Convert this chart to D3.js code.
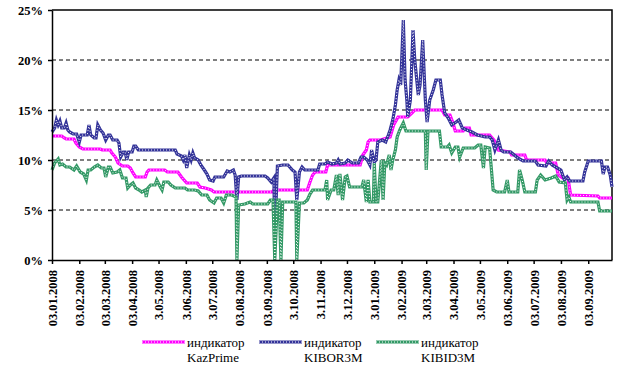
<!DOCTYPE html>
<html>
<head>
<meta charset="utf-8">
<script src="https://cdn.jsdelivr.net/npm/d3@7"></script>
<style>body { margin: 0; background: #fff; }</style>
</head>
<body>
<div id="chart"></div>
<script>
// tick dates and their labels as printed on the axis
const tickDates = ["2008-01-03","2008-02-03","2008-03-03","2008-04-03","2008-05-03","2008-06-03","2008-07-03",
  "2008-08-03","2008-09-03","2008-10-03","2008-11-03","2008-12-03","2009-01-03","2009-02-03","2009-03-03",
  "2009-04-03","2009-05-03","2009-06-03","2009-07-03","2009-08-03","2009-09-03"];
const tickLabels = ["03.01.2008","03.02.2008","03.03.2008","03.04.2008","3.05.2008","3.06.2008","3.07.2008",
  "03.08.2008","03.09.2008","3.10.2008","3.11.2008","3.12.2008","3.01.2009","3.02.2009","3.03.2009",
  "3.04.2009","3.05.2009","03.06.2009","03.07.2009","03.08.2009","03.09.2009"];
const yTicks = [0, 5, 10, 15, 20, 25];

const seriesNames = ["KazPrime", "KIBOR3M", "KIBID3M"];
const seriesColors = ["#ff00ff", "#333399", "#339966"];

// [date, %]
const kazPrime = [
  ["2008-01-03",12.4],["2008-01-14",12.4],["2008-01-17",12.2],["2008-01-19",12.1],["2008-01-28",12.1],
  ["2008-01-30",11.7],["2008-02-03",11.3],["2008-02-07",11.1],["2008-02-27",11.1],["2008-02-29",11.0],
  ["2008-03-09",11.0],["2008-03-11",10.7],["2008-03-15",10.3],["2008-03-18",9.7],["2008-03-23",9.4],
  ["2008-03-29",9.4],["2008-04-01",9.2],["2008-04-04",8.7],["2008-04-07",8.3],["2008-04-18",8.3],
  ["2008-04-20",8.8],["2008-04-22",9.0],["2008-05-10",9.0],["2008-05-13",8.8],["2008-05-25",8.8],
  ["2008-05-29",8.3],["2008-06-01",8.0],["2008-06-04",7.7],["2008-06-16",7.7],["2008-06-19",7.3],
  ["2008-06-25",7.2],["2008-07-02",7.0],["2008-07-05",6.8],["2008-09-09",6.8],["2008-09-11",7.0],
  ["2008-10-19",7.0],["2008-10-22",7.8],["2008-10-25",8.5],["2008-10-28",8.8],["2008-11-09",8.8],
  ["2008-11-11",9.5],["2008-12-18",9.5],["2008-12-21",10.5],["2008-12-25",11.0],["2008-12-27",11.8],
  ["2008-12-29",12.0],["2009-01-10",12.0],["2009-01-21",12.3],["2009-01-25",13.5],["2009-01-30",14.3],
  ["2009-02-10",14.3],["2009-02-15",14.7],["2009-02-18",15.0],["2009-03-21",15.0],["2009-03-24",14.5],
  ["2009-03-30",14.5],["2009-04-02",13.8],["2009-04-05",12.9],["2009-04-14",12.9],["2009-04-16",13.2],
  ["2009-04-21",13.2],["2009-04-23",12.5],["2009-05-14",12.5],["2009-05-19",12.0],["2009-05-24",11.0],
  ["2009-06-06",10.8],["2009-06-08",10.5],["2009-06-23",10.5],["2009-06-25",10.0],["2009-07-16",10.0],
  ["2009-07-18",9.7],["2009-07-28",9.7],["2009-07-31",8.5],["2009-08-05",8.2],["2009-08-11",8.2],
  ["2009-08-14",6.5],["2009-09-14",6.4],["2009-09-16",6.2],["2009-09-30",6.2]
];

const kibor3m = [
  ["2008-01-03",12.8],["2008-01-06",13.2],["2008-01-08",14.0],["2008-01-10",13.5],["2008-01-12",13.9],
  ["2008-01-14",13.2],["2008-01-17",13.2],["2008-01-19",13.7],["2008-01-21",13.0],["2008-01-23",12.8],
  ["2008-01-27",12.6],["2008-01-31",12.6],["2008-02-03",11.8],["2008-02-05",12.5],["2008-02-12",12.5],
  ["2008-02-14",13.5],["2008-02-16",12.5],["2008-02-20",12.2],["2008-02-22",12.2],["2008-02-24",13.5],
  ["2008-02-27",13.0],["2008-03-01",12.7],["2008-03-04",12.0],["2008-03-07",12.5],["2008-03-09",12.5],
  ["2008-03-12",12.0],["2008-03-17",12.0],["2008-03-19",11.7],["2008-03-21",10.3],["2008-03-24",10.8],
  ["2008-03-26",10.8],["2008-03-28",10.0],["2008-03-30",10.8],["2008-04-03",10.8],["2008-04-05",11.4],
  ["2008-04-07",11.4],["2008-04-10",11.0],["2008-04-12",11.0],["2008-05-22",11.0],["2008-05-24",10.6],
  ["2008-05-29",10.4],["2008-05-31",10.0],["2008-06-02",10.5],["2008-06-04",9.2],["2008-06-07",10.5],
  ["2008-06-09",10.0],["2008-06-11",10.7],["2008-06-13",10.2],["2008-06-17",10.0],["2008-06-20",9.5],
  ["2008-06-24",9.0],["2008-06-27",8.6],["2008-06-30",8.0],["2008-07-04",7.9],["2008-07-06",8.3],
  ["2008-07-16",8.3],["2008-07-20",8.9],["2008-07-23",8.8],["2008-07-27",9.0],["2008-07-29",8.5],
  ["2008-07-31",6.0],["2008-08-02",8.3],["2008-08-05",8.4],["2008-09-01",8.4],["2008-09-04",8.2],
  ["2008-09-08",7.8],["2008-09-11",8.2],["2008-09-12",2.3],["2008-09-15",9.4],["2008-09-21",9.5],
  ["2008-09-27",9.5],["2008-10-02",9.0],["2008-10-05",8.8],["2008-10-07",6.0],["2008-10-10",8.8],
  ["2008-10-13",9.3],["2008-10-16",9.0],["2008-10-31",9.0],["2008-11-02",9.6],["2008-11-08",9.6],
  ["2008-11-11",9.8],["2008-11-16",9.6],["2008-11-21",9.7],["2008-11-23",10.0],["2008-11-25",9.6],
  ["2008-12-01",9.7],["2008-12-04",10.0],["2008-12-09",9.7],["2008-12-16",9.7],["2008-12-19",10.3],
  ["2008-12-22",10.3],["2008-12-26",10.0],["2008-12-29",9.5],["2008-12-31",11.0],["2009-01-03",9.8],
  ["2009-01-05",10.0],["2009-01-07",11.8],["2009-01-12",12.0],["2009-01-16",11.8],["2009-01-19",12.5],
  ["2009-01-21",13.0],["2009-01-24",14.0],["2009-01-27",15.5],["2009-01-29",17.0],["2009-01-31",18.0],
  ["2009-02-02",17.5],["2009-02-05",24.0],["2009-02-07",18.0],["2009-02-09",16.0],["2009-02-10",14.3],
  ["2009-02-13",16.0],["2009-02-16",23.0],["2009-02-18",20.0],["2009-02-22",16.5],["2009-02-24",17.5],
  ["2009-02-27",22.0],["2009-03-02",16.0],["2009-03-04",13.8],["2009-03-07",16.0],["2009-03-11",17.0],
  ["2009-03-14",18.0],["2009-03-19",18.0],["2009-03-21",16.5],["2009-03-24",14.7],["2009-03-28",14.2],
  ["2009-04-01",13.5],["2009-04-06",13.8],["2009-04-09",14.0],["2009-04-13",13.2],["2009-04-18",13.0],
  ["2009-04-24",12.8],["2009-04-30",12.5],["2009-05-09",12.3],["2009-05-14",12.3],["2009-05-17",12.0],
  ["2009-05-20",11.0],["2009-05-24",12.0],["2009-05-27",11.0],["2009-05-30",10.8],["2009-06-07",10.8],
  ["2009-06-11",10.5],["2009-06-15",10.2],["2009-06-21",9.9],["2009-07-05",9.9],["2009-07-08",9.5],
  ["2009-07-17",9.4],["2009-07-20",9.9],["2009-07-24",9.5],["2009-07-28",9.3],["2009-08-03",9.0],
  ["2009-08-07",8.0],["2009-08-10",8.3],["2009-08-13",7.9],["2009-08-28",7.9],["2009-08-30",8.8],
  ["2009-09-03",9.9],["2009-09-18",9.9],["2009-09-20",8.6],["2009-09-22",9.3],["2009-09-25",9.3],
  ["2009-09-28",8.5],["2009-09-30",7.3]
];

const kibid3m = [
  ["2008-01-03",9.0],["2008-01-06",9.7],["2008-01-10",10.1],["2008-01-12",9.5],["2008-01-15",9.6],
  ["2008-01-19",9.3],["2008-01-23",9.3],["2008-01-28",9.0],["2008-01-31",9.4],["2008-02-04",8.8],
  ["2008-02-08",8.6],["2008-02-11",8.0],["2008-02-13",9.0],["2008-02-16",9.0],["2008-02-20",9.3],
  ["2008-02-24",9.5],["2008-02-28",9.2],["2008-03-02",9.2],["2008-03-04",8.3],["2008-03-07",9.3],
  ["2008-03-09",9.3],["2008-03-12",8.7],["2008-03-17",8.8],["2008-03-20",9.0],["2008-03-23",8.2],
  ["2008-03-27",8.2],["2008-03-29",7.2],["2008-04-01",7.5],["2008-04-04",7.7],["2008-04-07",7.2],
  ["2008-04-11",7.0],["2008-04-14",6.8],["2008-04-18",7.0],["2008-04-19",6.3],["2008-04-21",7.2],
  ["2008-04-24",7.5],["2008-04-29",7.5],["2008-05-01",8.0],["2008-05-05",7.3],["2008-05-07",7.0],
  ["2008-05-09",7.8],["2008-05-14",7.8],["2008-05-17",7.5],["2008-05-22",7.2],["2008-06-02",7.2],
  ["2008-06-05",7.0],["2008-06-13",7.0],["2008-06-17",6.9],["2008-06-21",6.5],["2008-06-27",6.5],
  ["2008-06-30",6.0],["2008-07-05",5.7],["2008-07-08",6.2],["2008-07-13",6.2],["2008-07-16",5.7],
  ["2008-07-19",6.5],["2008-07-25",6.5],["2008-07-30",6.3],["2008-07-31",0.0],["2008-08-02",5.5],
  ["2008-08-09",5.6],["2008-08-15",5.8],["2008-08-18",5.6],["2008-09-04",5.6],["2008-09-07",6.0],
  ["2008-09-10",6.0],["2008-09-12",0.0],["2008-09-15",6.0],["2008-09-17",6.0],["2008-09-19",0.0],
  ["2008-09-21",5.8],["2008-10-06",5.8],["2008-10-07",0.0],["2008-10-10",5.7],["2008-10-15",5.7],
  ["2008-10-19",6.0],["2008-10-22",6.6],["2008-10-25",7.0],["2008-11-08",7.0],["2008-11-10",8.0],
  ["2008-11-11",6.0],["2008-11-15",7.0],["2008-11-18",7.0],["2008-11-21",8.5],["2008-11-23",6.5],
  ["2008-11-25",8.6],["2008-11-28",6.0],["2008-12-01",8.3],["2008-12-03",8.4],["2008-12-06",7.3],
  ["2008-12-20",7.3],["2008-12-22",8.0],["2008-12-25",5.8],["2008-12-27",8.0],["2008-12-29",5.8],
  ["2009-01-02",5.8],["2009-01-03",9.7],["2009-01-05",5.8],["2009-01-07",5.8],["2009-01-11",10.0],
  ["2009-01-13",6.0],["2009-01-15",9.7],["2009-01-17",9.5],["2009-01-20",10.5],["2009-01-22",9.0],
  ["2009-01-24",10.0],["2009-01-27",11.0],["2009-01-29",12.3],["2009-02-01",13.0],["2009-02-05",13.7],
  ["2009-02-08",12.9],["2009-03-02",12.9],["2009-03-03",9.0],["2009-03-05",12.9],["2009-03-18",12.9],
  ["2009-03-20",11.3],["2009-03-27",11.3],["2009-03-29",11.5],["2009-04-01",10.7],["2009-04-05",11.3],
  ["2009-04-08",11.3],["2009-04-10",10.3],["2009-04-14",11.2],["2009-04-27",11.2],["2009-05-01",11.5],
  ["2009-05-04",11.5],["2009-05-07",9.2],["2009-05-09",11.3],["2009-05-14",11.2],["2009-05-18",7.0],
  ["2009-05-22",6.8],["2009-05-31",6.8],["2009-06-03",8.0],["2009-06-05",6.8],["2009-06-15",6.8],
  ["2009-06-17",9.0],["2009-06-20",8.0],["2009-06-23",6.8],["2009-07-05",6.8],["2009-07-07",8.0],
  ["2009-07-11",8.5],["2009-07-16",8.0],["2009-07-23",8.2],["2009-07-28",8.4],["2009-08-01",7.8],
  ["2009-08-08",7.7],["2009-08-10",6.0],["2009-08-12",6.3],["2009-08-14",5.8],["2009-09-14",5.8],
  ["2009-09-16",4.9],["2009-09-30",4.9]
];

const allSeries = [kazPrime, kibor3m, kibid3m];

const width = 639, height = 374;
const margin = {top: 10, right: 27, bottom: 114, left: 52};
const parse = d3.timeParse("%Y-%m-%d");
const serif = "Liberation Serif";

const svg = d3.select("#chart").append("svg")
    .attr("width", width)
    .attr("height", height)
    .attr("font-family", serif);

const x = d3.scaleTime()
    .domain([parse("2008-01-03"), parse("2009-09-30")])
    .range([margin.left, width - margin.right]);

const y = d3.scaleLinear()
    .domain([0, 25])
    .range([height - margin.bottom, margin.top]);

// dashed gridlines
svg.append("g")
    .selectAll("line")
    .data(yTicks.filter(d => d > 0 && d < 25))
    .enter().append("line")
    .attr("x1", margin.left).attr("x2", width - margin.right)
    .attr("y1", d => y(d)).attr("y2", d => y(d))
    .attr("stroke", "#000")
    .attr("stroke-dasharray", "4,3");

// top and right border of the plot area
svg.append("path")
    .attr("d", `M${margin.left},${y(25)}H${width - margin.right}V${y(0)}`)
    .attr("fill", "none")
    .attr("stroke", "#000")
    .attr("stroke-width", 1.5);

const line = d3.line()
    .x(d => x(parse(d[0])))
    .y(d => y(d[1]));

allSeries.forEach((s, i) => {
    svg.append("path")
        .datum(s)
        .attr("d", line)
        .attr("fill", "none")
        .attr("stroke", seriesColors[i])
        .attr("stroke-width", 3.2);
    svg.append("path")
        .datum(s)
        .attr("d", line)
        .attr("fill", "none")
        .attr("stroke", "#fff")
        .attr("stroke-width", 1)
        .attr("stroke-dasharray", "1,2");
});

// axes
const xAxis = svg.append("g")
    .attr("transform", `translate(0,${y(0)})`)
    .call(d3.axisBottom(x)
        .tickValues(tickDates.map(parse))
        .tickFormat((d, i) => tickLabels[i])
        .tickSize(4)
        .tickSizeOuter(0))
    .attr("font-family", serif)
    .attr("font-size", 12.5)
    .attr("font-weight", "bold");
xAxis.select(".domain").attr("stroke-width", 1.5);
xAxis.selectAll("line").attr("stroke-width", 1.5);
xAxis.selectAll("text")
    .attr("transform", "rotate(-90)")
    .attr("x", -10)
    .attr("y", 0)
    .attr("dy", "0.35em")
    .attr("text-anchor", "end");

const yAxis = svg.append("g")
    .attr("transform", `translate(${margin.left},0)`)
    .call(d3.axisLeft(y)
        .tickValues(yTicks)
        .tickFormat(d => d + "%")
        .tickSize(4)
        .tickPadding(5)
        .tickSizeOuter(0))
    .attr("font-family", serif)
    .attr("font-size", 12.5)
    .attr("font-weight", "bold");
yAxis.select(".domain").attr("stroke-width", 1.5);
yAxis.selectAll("line").attr("stroke-width", 1.5);

// legend
const legend = svg.append("g")
    .attr("transform", "translate(142,342)")
    .attr("font-size", 13);

const items = legend.selectAll("g")
    .data(seriesNames)
    .enter().append("g")
    .attr("transform", (d, i) => `translate(${i * 117},0)`);

items.append("line")
    .attr("x1", 0).attr("x2", 43)
    .attr("stroke", (d, i) => seriesColors[i])
    .attr("stroke-width", 3.2);
items.append("line")
    .attr("x1", 0).attr("x2", 43)
    .attr("stroke", "#fff")
    .attr("stroke-width", 1)
    .attr("stroke-dasharray", "1,2");

items.append("text")
    .attr("x", 45)
    .attr("y", 5)
    .text("индикатор");
items.append("text")
    .attr("x", 45)
    .attr("y", 20)
    .text(d => d);
</script>
</body>
</html>
